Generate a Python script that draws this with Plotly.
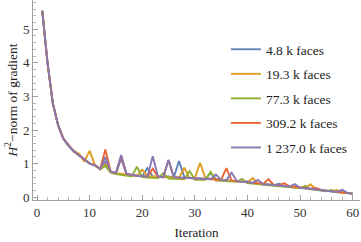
import plotly.graph_objects as go

iterations = list(range(1, 61))

faces_4_8k = [5.55, 4.00, 2.80, 2.15, 1.74, 1.53, 1.36, 1.24, 1.12, 1.01,
              0.95, 0.85, 1.05, 0.76, 0.71, 1.15, 0.70, 0.65, 0.64, 0.62,
              0.87, 0.62, 0.60, 0.60, 0.62, 0.59, 1.08, 0.60, 0.57, 0.56,
              0.56, 0.55, 0.72, 0.55, 0.52, 0.51, 0.50, 0.48, 0.46, 0.48,
              0.42, 0.40, 0.38, 0.37, 0.36, 0.40, 0.33, 0.31, 0.30, 0.28,
              0.27, 0.25, 0.28, 0.21, 0.19, 0.18, 0.16, 0.15, 0.13, 0.11]

faces_19_3k = [5.55, 4.00, 2.80, 2.15, 1.76, 1.55, 1.38, 1.30, 1.06, 1.38,
               0.97, 0.84, 0.98, 0.76, 0.72, 0.70, 0.68, 0.65, 0.64, 0.82,
               0.63, 0.62, 0.61, 0.60, 0.60, 0.59, 0.58, 0.88, 0.58, 0.57,
               1.03, 0.58, 0.55, 0.53, 0.52, 0.51, 0.50, 0.48, 0.46, 0.44,
               0.57, 0.41, 0.39, 0.38, 0.37, 0.35, 0.34, 0.32, 0.30, 0.28,
               0.27, 0.39, 0.24, 0.22, 0.20, 0.18, 0.22, 0.14, 0.13, 0.11]

faces_77_3k = [5.55, 4.00, 2.80, 2.15, 1.75, 1.54, 1.37, 1.24, 1.12, 1.00,
               0.95, 0.83, 0.93, 0.73, 0.69, 0.67, 0.64, 0.62, 0.91, 0.60,
               0.59, 0.58, 0.57, 0.72, 0.56, 0.55, 0.55, 0.54, 0.78, 0.52,
               0.53, 0.52, 0.76, 0.50, 0.49, 0.48, 0.47, 0.46, 0.55, 0.42,
               0.41, 0.39, 0.37, 0.36, 0.35, 0.33, 0.32, 0.30, 0.28, 0.27,
               0.34, 0.24, 0.22, 0.20, 0.18, 0.22, 0.15, 0.14, 0.12, 0.11]

faces_309_2k = [5.55, 4.00, 2.80, 2.15, 1.75, 1.55, 1.37, 1.25, 1.13, 1.01,
                0.96, 0.84, 1.42, 0.77, 0.72, 1.22, 0.69, 0.66, 0.64, 0.63,
                0.62, 0.85, 0.61, 0.60, 1.10, 0.60, 0.58, 0.57, 0.57, 0.56,
                0.56, 0.55, 0.54, 0.53, 0.52, 0.87, 0.50, 0.48, 0.46, 0.44,
                0.43, 0.41, 0.40, 0.54, 0.37, 0.36, 0.42, 0.33, 0.31, 0.29,
                0.27, 0.26, 0.28, 0.22, 0.20, 0.18, 0.16, 0.15, 0.13, 0.11]

faces_1237_0k = [5.55, 4.00, 2.80, 2.15, 1.75, 1.54, 1.37, 1.25, 1.12, 1.00,
                 0.96, 0.84, 1.20, 0.77, 0.72, 1.26, 0.70, 0.66, 0.64, 0.63,
                 0.62, 1.22, 0.62, 0.60, 1.12, 0.60, 0.59, 0.58, 0.57, 0.56,
                 0.56, 0.55, 0.54, 0.68, 0.52, 0.51, 0.73, 0.48, 0.46, 0.44,
                 0.43, 0.52, 0.39, 0.38, 0.36, 0.35, 0.33, 0.32, 0.39, 0.28,
                 0.27, 0.25, 0.23, 0.21, 0.20, 0.18, 0.16, 0.22, 0.13, 0.11]

series_names = ["4.8 k faces", "19.3 k faces", "77.3 k faces",
                "309.2 k faces", "1\u2009237.0 k faces"]
series_values = [faces_4_8k, faces_19_3k, faces_77_3k, faces_309_2k, faces_1237_0k]
series_colors = ["#5E81B5", "#E19C24", "#8FB032", "#EB6235", "#8778B3"]

x_tick_vals = [0, 10, 20, 30, 40, 50, 60]
y_tick_vals = [0, 1, 2, 3, 4, 5]

FONT = "Liberation Serif"

fig = go.Figure()
for name, vals, col in zip(series_names, series_values, series_colors):
    fig.add_trace(go.Scatter(
        x=iterations, y=vals, mode="lines", name=name,
        legendgroup=name,
        line=dict(color=col, width=1.9),
    ))

axis_common = dict(
    showgrid=False, zeroline=False, showline=True, automargin=False,
    linecolor="#a0a0a0", linewidth=1,
    ticks="inside", tickcolor="#a0a0a0", ticklen=5, tickwidth=1,
    tickfont=dict(family=FONT, size=13, color="#333333"),
    ticklabeloverflow="allow",
    mirror=False,
)

fig.update_layout(
    width=361, height=242,
    margin=dict(l=33, r=1, t=0, b=42),
    paper_bgcolor="white", plot_bgcolor="white",
    font=dict(family=FONT, size=13, color="#222222"),
    xaxis=dict(
        range=[-0.76, 61.4], tickvals=x_tick_vals,
        minor=dict(dtick=2, ticks="inside", ticklen=3, tickcolor="#b4b4b4", tick0=0),
        title=dict(text="Iteration", font=dict(family=FONT, size=13, color="#222222"), standoff=9),
        **axis_common,
    ),
    yaxis=dict(
        range=[-0.08, 5.87], tickvals=y_tick_vals,
        minor=dict(dtick=0.2, ticks="inside", ticklen=3, tickcolor="#b4b4b4", tick0=0),
        title=dict(text="<i>H</i><sup>2</sup>\u2212norm of gradient",
                   font=dict(family=FONT, size=13.5, color="#222222"), standoff=2),
        **axis_common,
    ),
    showlegend=True,
    legend=dict(
        x=0.59, y=0.83, xanchor="left", yanchor="top",
        bgcolor="rgba(0,0,0,0)", borderwidth=0,
        font=dict(family=FONT, size=13.5, color="#222222"),
        traceorder="grouped", tracegroupgap=4,
    ),
)

fig.write_html(
    "out.html",
    config={"displayModeBar": False},
    post_script="document.body.style.margin='0';document.body.style.padding='0';",
)
